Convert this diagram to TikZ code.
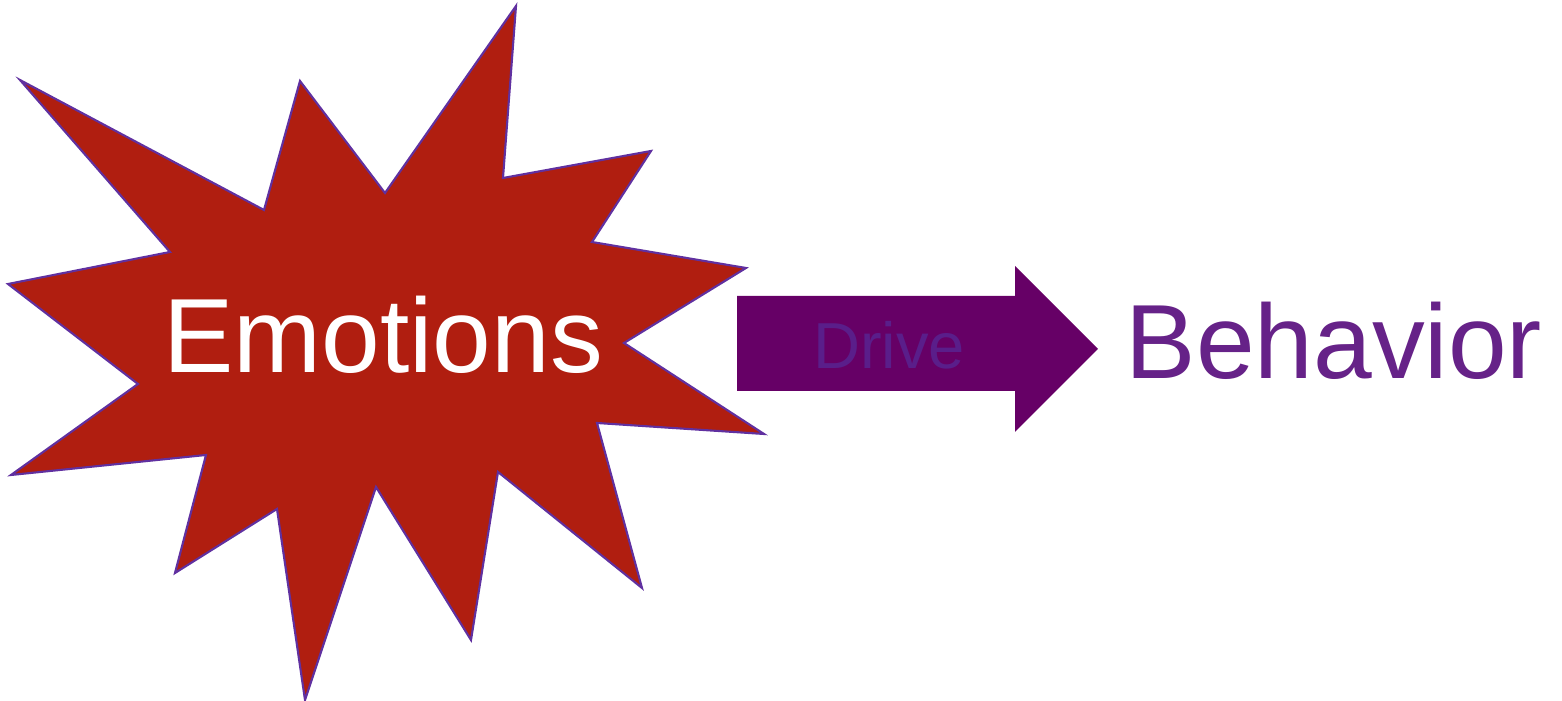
\documentclass[tikz,border=0pt]{standalone}
\usepackage{fontspec}
\setmainfont{Liberation Sans}
\usetikzlibrary{positioning}
\definecolor{burst}{HTML}{B01E10}
\definecolor{rim}{HTML}{6030A0}
\definecolor{plum}{HTML}{660066}
\definecolor{drivetxt}{HTML}{5A1E8A}
\definecolor{behav}{HTML}{662288}

\begin{document}
\begin{tikzpicture}[x=0.01cm,y=-0.01cm,
  star/.style={draw=rim,fill=burst,line width=0.6pt,line join=miter},
  bigarrow/.style={fill=plum,draw=none},
  word/.style={anchor=base,inner sep=0pt,font=\fontsize{30}{36}\selectfont}]
  \useasboundingbox (0,0) rectangle (1562,701);
  % the burst
  \draw[star] (516,6) -- (503,178) -- (651,151) -- (592,242) -- (746,268)
    -- (624,343) -- (764,434) -- (597,423) -- (642,588) -- (498,472)
    -- (471,640) -- (376,487) -- (305,700) -- (277,509) -- (175,573)
    -- (206,455) -- (11,475) -- (138,384) -- (8,284) -- (170,252)
    -- (20,80) -- (264,210) -- (300,81) -- (385,193) -- cycle;
  \node[word,text=white] (emo) at (383,373) {Emotions};
  % the arrow
  \coordinate (tail) at (737,296);
  \coordinate (tip) at (1098,349);
  \fill[bigarrow] (tail) -- (1015,296) -- (1015,266) -- (tip) -- (1015,432)
    -- (1015,391) -- (737,391) -- cycle;
  \node[word,text=drivetxt,font=\fontsize{18.5}{22}\selectfont] (drive) at (889,369) {Drive};
  \node[word,text=behav] (beh) at (1334,379) {Behavior};
\end{tikzpicture}
\end{document}
